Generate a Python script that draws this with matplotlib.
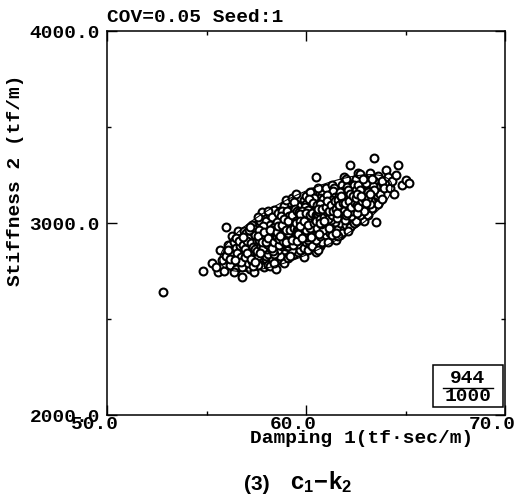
import numpy as np
import matplotlib
matplotlib.use("Agg")
import matplotlib.pyplot as plt
import matplotlib.transforms as mtransforms
from matplotlib.patches import Rectangle
from matplotlib.lines import Line2D

plt.rcParams['font.family'] = ['Liberation Mono', 'DejaVu Sans Mono']
plt.rcParams['mathtext.fontset'] = 'custom'
plt.rcParams['mathtext.rm'] = 'Liberation Sans'
plt.rcParams['mathtext.bf'] = 'Liberation Sans:bold'

# samples (damping 1, stiffness 2)
outer_points = [(52.8, 2641), (54.8, 2750), (55.3, 2792), (55.6, 2745), (55.9, 2748),
                (55.8, 2805), (55.5, 2770), (56.0, 2830), (55.7, 2860), (56.1, 2885),
                (56.0, 2979)]
band_56 = [(56.2, 2780), (56.3, 2840), (56.4, 2900), (56.5, 2760), (56.5, 2870), (56.6, 2810),
           (56.7, 2940), (56.8, 2719), (56.8, 2850), (56.9, 2790), (56.9, 2905), (56.3, 2930),
           (56.6, 2960), (56.2, 2815), (56.7, 2880), (56.4, 2745), (56.9, 2960), (56.5, 2920),
           (56.8, 2770), (56.1, 2860)]
band_57 = [(57.0, 2820), (57.1, 2880), (57.2, 2760), (57.2, 2940), (57.3, 2850), (57.4, 2745),
           (57.4, 2910), (57.5, 2990), (57.5, 2800), (57.6, 2870), (57.6, 2950), (57.7, 2780),
           (57.7, 2920), (57.8, 3057), (57.8, 2840), (57.9, 2890), (57.9, 3000), (58.0, 2810),
           (57.0, 2950), (57.1, 2790), (57.3, 2990), (57.4, 2830), (57.5, 2890), (57.6, 2830),
           (57.7, 3010), (57.8, 2960), (57.9, 2770), (57.2, 2870), (57.3, 2920), (57.5, 2940),
           (57.6, 2780), (57.8, 2900), (57.9, 2940), (57.1, 2920), (57.4, 2970), (57.7, 2860),
           (57.0, 2880), (57.6, 3030), (57.3, 2800), (57.9, 2850)]
band_58 = [(58.0, 2870), (58.0, 2940), (58.0, 3010), (58.1, 2780), (58.1, 2900), (58.1, 2980),
           (58.2, 2776), (58.2, 2850), (58.2, 3040), (58.3, 2920), (58.3, 2960), (58.3, 2820),
           (58.4, 2880), (58.4, 3000), (58.4, 3070), (58.5, 2760), (58.5, 2850), (58.5, 2940),
           (58.5, 3030), (58.6, 2900), (58.6, 2980), (58.6, 2810), (58.7, 2870), (58.7, 2950),
           (58.7, 3060), (58.8, 2800), (58.8, 2920), (58.8, 3010), (58.9, 2860), (58.9, 2970),
           (58.9, 3090), (58.0, 2830), (58.1, 3060), (58.2, 2930), (58.3, 3030), (58.4, 2790),
           (58.5, 2990), (58.6, 3050), (58.7, 2830), (58.8, 2960), (58.9, 2790), (58.9, 2910),
           (58.2, 2990), (58.4, 2940), (58.6, 2860), (58.8, 3060), (58.3, 2880), (58.7, 3000),
           (58.5, 2900), (58.1, 2840), (58.9, 3030), (58.6, 2940), (58.0, 2900), (58.4, 2840),
           (58.8, 2880)]
band_59 = [(59.0, 2880), (59.0, 2960), (59.0, 3040), (59.0, 3120), (59.1, 2820), (59.1, 2920),
           (59.1, 3000), (59.2, 2870), (59.2, 2980), (59.2, 3070), (59.3, 3130), (59.3, 2900),
           (59.3, 3020), (59.4, 2840), (59.4, 2950), (59.4, 3060), (59.5, 2990), (59.5, 2880),
           (59.5, 3100), (59.6, 2930), (59.6, 3030), (59.6, 2850), (59.7, 2970), (59.7, 3080),
           (59.7, 2900), (59.8, 3000), (59.8, 2940), (59.8, 2860), (59.9, 2823), (59.9, 3050),
           (59.9, 2970), (59.9, 3120), (59.0, 3000), (59.1, 3060), (59.2, 2930), (59.3, 2960),
           (59.4, 3000), (59.5, 2940), (59.6, 2980), (59.7, 3020), (59.8, 3090), (59.9, 2910),
           (59.1, 2960), (59.3, 2860), (59.5, 3040), (59.7, 2860), (59.2, 3020), (59.4, 2900),
           (59.6, 3090), (59.8, 2900), (59.0, 2920), (59.3, 3070), (59.5, 3150), (59.7, 2940),
           (59.9, 3010), (59.2, 2830), (59.4, 3110), (59.6, 2890), (59.8, 3050), (59.1, 2880),
           (59.3, 2990), (59.5, 2910), (59.7, 3000), (59.9, 2870), (59.6, 3010)]
band_60 = [(60.0, 2900), (60.0, 2980), (60.0, 3060), (60.0, 3140), (60.1, 2860), (60.1, 2950),
           (60.1, 3030), (60.2, 3100), (60.2, 2990), (60.2, 2890), (60.3, 3050), (60.3, 2940),
           (60.3, 3160), (60.4, 3010), (60.4, 2870), (60.4, 3090), (60.5, 2849), (60.5, 2960),
           (60.5, 3040), (60.5, 3240), (60.6, 3000), (60.6, 3120), (60.6, 2910), (60.7, 3060),
           (60.7, 2970), (60.7, 2880), (60.8, 3020), (60.8, 3150), (60.8, 2940), (60.9, 3080),
           (60.9, 2990), (60.9, 2900), (60.0, 3020), (60.1, 3100), (60.2, 2940), (60.3, 3000),
           (60.4, 3050), (60.5, 3110), (60.6, 2960), (60.7, 3010), (60.8, 3090), (60.9, 3040),
           (60.1, 2910), (60.3, 2880), (60.5, 3000), (60.7, 3130), (60.9, 2950), (60.2, 3040),
           (60.4, 2950), (60.6, 3060), (60.8, 2980), (60.0, 2940), (60.2, 3160), (60.4, 3130),
           (60.6, 2860), (60.8, 2900), (60.1, 2990), (60.3, 3090), (60.5, 2910), (60.7, 2930),
           (60.9, 3130), (60.0, 3100), (60.6, 3180), (60.4, 2990), (60.2, 3070)]
band_61 = [(61.0, 2940), (61.0, 3020), (61.0, 3100), (61.0, 3180), (61.1, 2980), (61.1, 3060),
           (61.1, 2900), (61.2, 3140), (61.2, 3030), (61.2, 2950), (61.3, 3090), (61.3, 3000),
           (61.3, 3200), (61.4, 3050), (61.4, 2960), (61.4, 3130), (61.5, 2911), (61.5, 3010),
           (61.5, 3100), (61.6, 3060), (61.6, 3170), (61.6, 2970), (61.7, 3030), (61.7, 3120),
           (61.7, 2940), (61.8, 3080), (61.8, 3000), (61.8, 3200), (61.9, 3240), (61.9, 3050),
           (61.9, 2980), (61.0, 3060), (61.1, 3140), (61.2, 3090), (61.3, 2940), (61.4, 3010),
           (61.5, 3160), (61.6, 3020), (61.7, 3080), (61.8, 2950), (61.9, 3120), (61.2, 2990),
           (61.4, 3180), (61.6, 3110), (61.8, 3040), (61.1, 3020), (61.3, 3050), (61.5, 3060),
           (61.7, 3000), (61.9, 3160), (61.0, 2980), (61.3, 3140), (61.6, 2930), (61.8, 3140),
           (61.5, 2950)]
band_62 = [(62.0, 2990), (62.0, 3070), (62.0, 3150), (62.1, 3030), (62.1, 3110), (62.1, 3210),
           (62.2, 3302), (62.2, 3060), (62.2, 2980), (62.3, 3140), (62.3, 3020), (62.3, 3090),
           (62.4, 3180), (62.4, 3050), (62.4, 3000), (62.5, 3120), (62.5, 3230), (62.5, 3070),
           (62.6, 3260), (62.6, 3020), (62.6, 3160), (62.7, 3255), (62.7, 3090), (62.7, 3180),
           (62.8, 3040), (62.8, 3130), (62.9, 3010), (62.9, 3100), (62.9, 3200), (62.0, 3230),
           (62.1, 2960), (62.3, 3200), (62.5, 3010), (62.7, 3040), (62.9, 3150), (62.2, 3120),
           (62.4, 3110), (62.6, 3100), (62.8, 3200), (62.0, 3110)]
band_63 = [(63.0, 3080), (63.0, 3170), (63.1, 3230), (63.1, 3040), (63.2, 3130), (63.2, 3200),
           (63.3, 3080), (63.3, 3160), (63.4, 3339), (63.4, 3110), (63.5, 3005), (63.5, 3190),
           (63.6, 3245), (63.6, 3100), (63.7, 3150), (63.8, 3125), (63.8, 3220), (63.9, 3180),
           (63.0, 3120), (63.2, 3260), (63.4, 3220)]
band_64 = [(64.0, 3276), (64.1, 3240), (64.2, 3180), (64.3, 3220), (64.5, 3250), (64.6, 3300),
           (64.8, 3200), (65.0, 3224), (65.2, 3208), (64.4, 3150)]

# the dark core of the cloud
core_57 = [(56.55, 2845), (56.65, 2905), (56.75, 2825), (56.85, 2885), (56.95, 2865),
           (57.05, 2905), (57.15, 2845), (57.25, 2895), (57.35, 2875), (57.45, 2935),
           (56.75, 2795), (56.95, 2825), (57.15, 2965), (57.35, 2775), (57.05, 2845),
           (56.45, 2805), (56.85, 2925), (57.25, 2815), (57.45, 2795), (57.2, 2980)]
core_58 = [(57.55, 2905), (57.65, 2885), (57.75, 2935), (57.85, 2915), (57.95, 2875),
           (58.05, 2955), (58.15, 2925), (58.25, 2895), (58.35, 2975), (58.45, 2915),
           (57.45, 2865), (57.85, 2985), (58.05, 2865), (58.25, 2965), (58.45, 2985),
           (57.65, 2965), (58.15, 2875), (58.35, 2855), (57.95, 2945), (58.55, 2965),
           (57.52, 2852), (57.62, 2912), (57.72, 2882), (57.82, 2872), (57.92, 2922),
           (58.02, 2892), (58.12, 2952), (58.22, 2912), (58.32, 2942), (58.42, 2962),
           (57.58, 2932), (57.68, 2842), (57.78, 2902), (57.88, 2952), (57.98, 2902),
           (58.08, 2922), (58.18, 2962), (58.28, 2872), (58.38, 2902), (58.48, 2932)]
core_59 = [(58.55, 2925), (58.65, 2995), (58.75, 2905), (58.85, 2945), (58.95, 3005),
           (59.05, 2935), (59.15, 2985), (59.25, 2905), (59.35, 3045), (59.45, 2975),
           (58.65, 2885), (58.75, 3035), (58.85, 2985), (58.95, 2895), (59.05, 3065),
           (59.15, 2895), (59.25, 3005), (59.35, 2935), (59.45, 3025), (59.45, 2925),
           (58.55, 3005), (58.85, 2925), (59.15, 3035), (59.35, 2885), (58.75, 2965),
           (59.05, 2985), (59.25, 2955), (58.95, 2935), (59.45, 3075), (58.65, 2945),
           (58.52, 2952), (58.62, 2918), (58.72, 2978), (58.82, 2908), (58.92, 2958),
           (59.02, 2902), (59.12, 2948), (59.22, 2988), (59.32, 2912), (59.42, 2958),
           (58.58, 2982), (58.68, 2932), (58.78, 2992), (58.88, 3022), (58.98, 2962),
           (59.08, 3012), (59.18, 2962), (59.28, 3042), (59.38, 2972), (59.48, 3012)]
core_60 = [(59.55, 2965), (59.65, 3005), (59.75, 2955), (59.85, 3035), (59.95, 2985),
           (60.05, 3045), (60.15, 2975), (60.25, 3025), (60.35, 2965), (60.45, 3075),
           (59.55, 3065), (59.65, 2915), (59.75, 3045), (59.85, 2975), (59.95, 3085),
           (60.05, 2925), (60.15, 3065), (60.25, 2925), (60.35, 3035), (60.45, 2985),
           (59.55, 2905), (59.65, 3055), (59.75, 2995), (59.85, 2925), (59.95, 3025),
           (60.05, 3005), (60.15, 3125), (60.25, 3075), (60.35, 3105), (60.45, 3025),
           (59.6, 2965), (59.8, 3065), (60.0, 3000), (60.2, 3015), (60.4, 3070),
           (59.7, 3045), (59.9, 2950), (60.1, 3070), (60.3, 2975), (60.5, 3065),
           (59.52, 3002), (59.62, 2948), (59.72, 3012), (59.82, 2952), (59.92, 3002),
           (60.02, 2962), (60.12, 3012), (60.22, 2972), (60.32, 3022), (60.42, 3052),
           (59.58, 2942), (59.68, 2982), (59.78, 2922), (59.88, 3012), (59.98, 3052),
           (60.08, 2992), (60.18, 3042), (60.28, 3052), (60.38, 3002), (60.48, 3042)]
core_61 = [(60.55, 3035), (60.65, 3085), (60.75, 3035), (60.85, 3055), (60.95, 3015),
           (61.05, 3085), (61.15, 3045), (61.25, 3115), (61.35, 3025), (61.45, 3075),
           (60.55, 2975), (60.65, 3025), (60.75, 3105), (60.85, 2965), (60.95, 3105),
           (61.05, 3005), (61.15, 3105), (61.25, 3055), (61.35, 3165), (61.45, 3005),
           (60.55, 3095), (60.65, 2945), (60.75, 2995), (60.85, 3125), (60.95, 3055),
           (61.05, 3145), (61.15, 2975), (61.25, 3015), (61.35, 3085), (61.45, 3135),
           (60.6, 3040), (60.8, 3060), (61.0, 3040), (61.2, 3070), (61.4, 3090),
           (60.7, 3100), (60.9, 3020), (61.1, 3090), (61.3, 3120), (61.5, 3040),
           (60.52, 3012), (60.62, 3062), (60.72, 3022), (60.82, 3072), (60.92, 3032),
           (61.02, 3062), (61.12, 3022), (61.22, 3082), (61.32, 3042), (61.42, 3102),
           (60.58, 3072), (60.68, 3002), (60.78, 3072), (60.88, 3012), (60.98, 3082),
           (61.08, 3112), (61.18, 3062), (61.28, 3092), (61.38, 3062), (61.48, 3112)]
core_62 = [(61.55, 3085), (61.65, 3045), (61.75, 3105), (61.85, 3065), (61.95, 3135),
           (62.05, 3095), (62.15, 3065), (62.25, 3145), (62.35, 3115), (62.45, 3085),
           (61.55, 3025), (61.65, 3145), (61.75, 3055), (61.85, 3165), (61.95, 3015),
           (62.05, 3185), (62.15, 3135), (62.25, 3035), (62.35, 3165), (62.45, 3145),
           (61.6, 3090), (61.8, 3110), (62.0, 3040), (62.2, 3100), (62.4, 3200),
           (61.7, 3160), (61.9, 3090), (62.1, 3170), (62.3, 3060), (62.5, 3170),
           (61.52, 3072), (61.62, 3122), (61.72, 3082), (61.82, 3132), (61.92, 3072),
           (62.02, 3122), (62.12, 3092), (62.22, 3152), (62.32, 3102), (62.42, 3122),
           (61.58, 3052), (61.68, 3092), (61.78, 3142), (61.88, 3102), (61.98, 3102),
           (62.08, 3052), (62.18, 3112), (62.28, 3082), (62.38, 3142), (62.48, 3102)]
core_63 = [(62.55, 3095), (62.65, 3135), (62.75, 3115), (62.85, 3165), (62.95, 3075),
           (63.05, 3145), (63.15, 3175), (63.25, 3115), (63.35, 3195), (62.6, 3200),
           (62.8, 3080), (63.0, 3210), (63.2, 3100), (63.4, 3170), (62.7, 3150),
           (62.9, 3060), (63.1, 3130), (63.3, 3230), (62.55, 3050), (62.85, 3230),
           (62.52, 3132), (62.62, 3082), (62.72, 3172), (62.82, 3112), (62.92, 3132),
           (63.02, 3102), (63.12, 3162), (63.22, 3152), (62.58, 3152), (62.78, 3142)]

# probability ellipse parameters
ell_center = (60.0, 3000.0)
ell_sigma = (1.8, 105.0)
ell_rho = 0.75
ell_prob = 0.944

x_ticks = [50.0, 60.0, 70.0]
x_minor = [55.0, 65.0]
y_ticks = [2000.0, 3000.0, 4000.0]
y_minor = [2500.0, 3500.0]


def main():
    pts = np.array(outer_points + band_56 + band_57 + band_58 + band_59 + band_60
                   + band_61 + band_62 + band_63 + band_64
                   + core_57 + core_58 + core_59 + core_60 + core_61 + core_62 + core_63)
    damping, stiffness = pts[:, 0], pts[:, 1]

    fig = plt.figure(figsize=(5.17, 4.95), dpi=100)
    ax = fig.add_axes([107 / 517, 1 - 415 / 495, 398 / 517, 384 / 495])

    ax.scatter(damping, stiffness, s=32, facecolors='white', edgecolors='black',
               linewidths=1.5, zorder=3)

    # ellipse from the covariance
    sx, sy = ell_sigma
    cov = np.array([[sx * sx, ell_rho * sx * sy], [ell_rho * sx * sy, sy * sy]])
    L = np.linalg.cholesky(cov)
    r = np.sqrt(-2 * np.log(1 - ell_prob))
    t = np.linspace(0, 2 * np.pi, 200)
    ell = L @ (np.vstack([np.cos(t), np.sin(t)]) * r)
    ax.plot(ell[0] + ell_center[0], ell[1] + ell_center[1], color='black', lw=0.8, zorder=4)

    ax.set_xlim(50, 70)
    ax.set_ylim(2000, 4000)
    ax.set_xticks(x_ticks)
    ax.set_xticks(x_minor, minor=True)
    ax.set_yticks(y_ticks)
    ax.set_yticks(y_minor, minor=True)
    ax.set_xticklabels(["{:.1f}".format(v) for v in x_ticks])
    ax.set_yticklabels(["{:.1f}".format(v) for v in y_ticks])
    ax.tick_params(which='both', direction='in', top=True, right=True, width=1.0,
                   labelsize=14, colors='black')
    ax.tick_params(which='major', length=7)
    ax.tick_params(axis='x', which='major', pad=1)
    ax.tick_params(axis='y', which='major', pad=5)
    ax.tick_params(which='minor', length=3)
    shift = mtransforms.ScaledTranslation(-0.13, 0, fig.dpi_scale_trans)
    for lab in ax.get_xticklabels():
        lab.set_fontweight('bold')
        lab.set_transform(lab.get_transform() + shift)
    for lab in ax.get_yticklabels():
        lab.set_fontweight('bold')
    for sp in ax.spines.values():
        sp.set_linewidth(1.1)

    ax.text(0.641, -0.06, "Damping 1(tf\u00b7sec/m)", transform=ax.transAxes,
            ha='center', va='center', fontsize=14, fontweight='bold')
    ax.text(-0.231, 0.612, "Stiffness 2 (tf/m)", transform=ax.transAxes, rotation=90,
            ha='center', va='center', fontsize=14, fontweight='bold')
    fig.text(107 / 517, 1 - 17 / 495, "COV=0.05 Seed:1", ha='left', va='center',
             fontsize=14, fontweight='bold')

    # count box
    ax.add_patch(Rectangle((0.819, 0.021), 0.176, 0.109, transform=ax.transAxes,
                           fill=False, lw=1.1, ec='black', zorder=5))
    ax.text(0.907, 0.094, "944", transform=ax.transAxes, ha='center', va='center',
            fontsize=14, fontweight='bold')
    ax.add_line(Line2D([0.844, 0.970], [0.070, 0.070], transform=ax.transAxes,
                       color='black', lw=1.0))
    ax.text(0.907, 0.047, "1000", transform=ax.transAxes, ha='center', va='center',
            fontsize=14, fontweight='bold')

    # caption
    fig.text(257 / 517, 1 - 484 / 495, "(3)", ha='center', va='center', fontsize=15,
             fontweight='bold', family=['Liberation Sans', 'DejaVu Sans'])
    fig.text(321 / 517, 1 - 482 / 495, r"$\mathbf{c_1\!-\!k_2}$", ha='center', va='center',
             fontsize=17, family=['Liberation Sans', 'DejaVu Sans'])

    fig.savefig("out.png", dpi=100)
    plt.close(fig)


if __name__ == "__main__":
    main()
